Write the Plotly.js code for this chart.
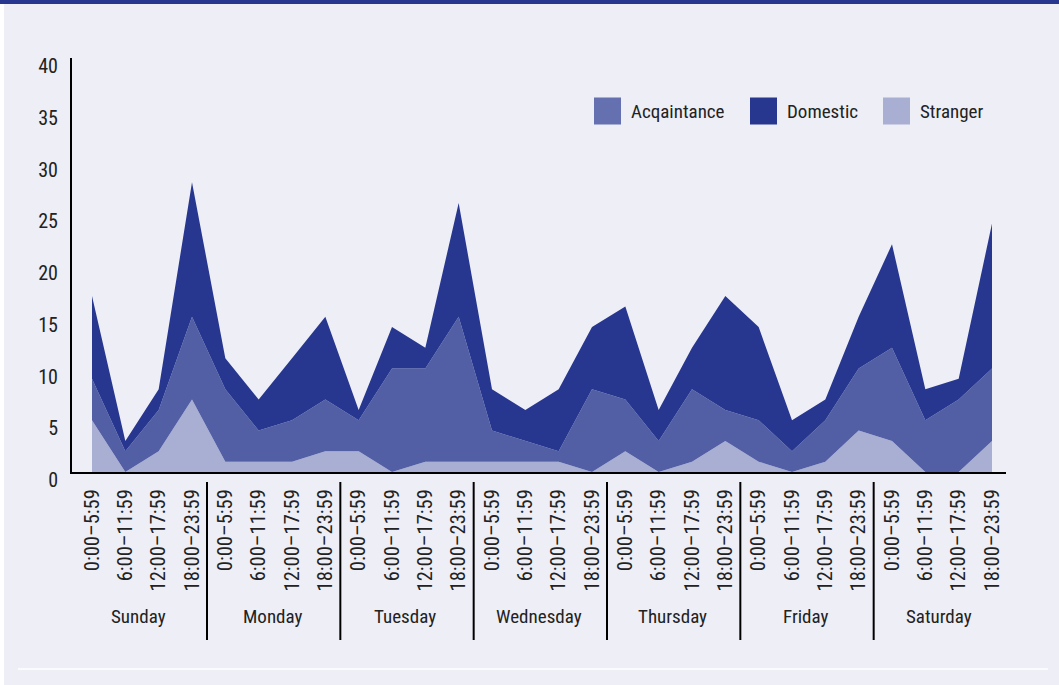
<!DOCTYPE html>
<html>
<head>
<meta charset="utf-8">
<script src="https://cdn.plot.ly/plotly-3.0.1.min.js"></script>
<style>
  html, body { margin: 0; padding: 0; background: #ffffff; }
  #chart { width: 1059px; height: 685px; }
</style>
</head>
<body>
<div id="chart"></div>
<script>
// ---- data ----
const days = ["Sunday", "Monday", "Tuesday", "Wednesday", "Thursday", "Friday", "Saturday"];
const timeSlots = ["0:00–5:59", "6:00–11:59", "12:00–17:59", "18:00–23:59"];
const seriesNames = ["Acqaintance", "Domestic", "Stranger"];

const stranger    = [5,0,2,7, 1,1,1,2, 2,0,1,1, 1,1,1,0, 2,0,1,3, 1,0,1,4, 3,0,0,3];
const acquaintance= [4,2,4,8, 7,3,4,5, 3,10,9,14, 3,2,1,8, 5,3,7,3, 4,2,4,6, 9,5,7,7];
const domestic    = [8,1,2,13, 3,3,6,8, 1,4,2,11, 4,3,6,6, 9,3,4,11, 9,3,2,5, 10,3,2,14];

const yTicks = [0, 5, 10, 15, 20, 25, 30, 35, 40];

// ---- derived ----
const xIdx = [];
const xLabels = [];
days.forEach((d, di) => timeSlots.forEach((t, ti) => { xIdx.push(di * timeSlots.length + ti); xLabels.push(t); }));

const FONT = "'Liberation Sans Narrow', 'Arial Narrow', 'Roboto Condensed', 'Liberation Sans', Arial, sans-serif";
const colors = { Acqaintance: "#535fa5", Domestic: "#27378f", Stranger: "#a9afd3" };
const legendColors = { Acqaintance: "#6470af", Domestic: "#27378f", Stranger: "#a9afd3" };

const mk = (name, y) => ({
  type: "scatter", mode: "lines", name: name, x: xIdx, y: y,
  stackgroup: "one", fillcolor: colors[name],
  line: { width: 0, color: colors[name] }, showlegend: false, hoverinfo: "x+y+name"
});

const traces = [mk("Stranger", stranger), mk("Acqaintance", acquaintance), mk("Domestic", domestic)];

// plot geometry (px)
const L = 72, R = 1006, T = 58, B = 472;
const H = B - T;
const pyToPaper = py => (B - py) / H;

const shapes = [];
const annotations = [];

// top band
shapes.push({ type: "rect", xref: "paper", yref: "paper", x0: -L / (R - L), x1: (1059 - L) / (R - L), y0: pyToPaper(0), y1: pyToPaper(4), fillcolor: "#27378f", line: { width: 0 }, layer: "below" });
// left white strip
shapes.push({ type: "rect", xref: "paper", yref: "paper", x0: -L / (R - L), x1: (4 - L) / (R - L), y0: pyToPaper(685), y1: pyToPaper(4), fillcolor: "#ffffff", line: { width: 0 }, layer: "below" });
// bottom white rule
shapes.push({ type: "line", xref: "paper", yref: "paper", x0: (18 - L) / (R - L), x1: (1048 - L) / (R - L), y0: pyToPaper(669), y1: pyToPaper(669), line: { color: "#fafbfe", width: 2 } });

// day separators and labels
const n = timeSlots.length;
days.forEach((d, di) => {
  if (di > 0) {
    shapes.push({ type: "line", xref: "x", yref: "paper", x0: di * n - 0.55, x1: di * n - 0.55, y0: pyToPaper(482), y1: pyToPaper(640), line: { color: "#000000", width: 2 } });
  }
  annotations.push({ xref: "x", yref: "paper", x: di * n + (n - 1) / 2 - 0.1, y: pyToPaper(616), text: d, showarrow: false, xanchor: "center", yanchor: "middle", font: { family: FONT, size: 19, color: "#222222" } });
});

// custom legend
const legX = [594, 750, 883];
seriesNames.forEach((s, i) => {
  const x0 = legX[i];
  shapes.push({ type: "rect", xref: "paper", yref: "paper", x0: (x0 - L) / (R - L), x1: (x0 + 27 - L) / (R - L), y0: pyToPaper(124.5), y1: pyToPaper(97.5), fillcolor: legendColors[s], line: { width: 0 } });
  annotations.push({ xref: "paper", yref: "paper", x: (x0 + 35 - L) / (R - L), y: pyToPaper(111), text: s, showarrow: false, xanchor: "left", yanchor: "middle", font: { family: FONT, size: 19, color: "#222222" } });
});

const layout = {
  width: 1059, height: 685,
  paper_bgcolor: "#edeef6", plot_bgcolor: "#edeef6",
  margin: { l: L, r: 1059 - R, t: T, b: 685 - B, pad: 0 },
  showlegend: false,
  font: { family: FONT, size: 19, color: "#222222" },
  xaxis: {
    range: [-0.6, 27.42], tickmode: "array", tickvals: xIdx, ticktext: xLabels,
    tickangle: -90, tickfont: { family: FONT, size: 20.5, color: "#222222" },
    showgrid: false, zeroline: false, showline: true, linecolor: "#000000", linewidth: 2,
    ticks: "", ticklabelstandoff: 7, fixedrange: true
  },
  yaxis: {
    range: [0, 40], tickmode: "array", tickvals: yTicks, ticktext: yTicks.map(String),
    tickfont: { family: FONT, size: 20, color: "#222222" },
    showgrid: false, zeroline: false, showline: true, linecolor: "#000000", linewidth: 2,
    ticks: "", ticklabelstandoff: 8, ticklabelshift: 8, fixedrange: true
  },
  shapes: shapes,
  annotations: annotations
};

Plotly.newPlot("chart", traces, layout, { displayModeBar: false, staticPlot: true });
</script>
</body>
</html>
